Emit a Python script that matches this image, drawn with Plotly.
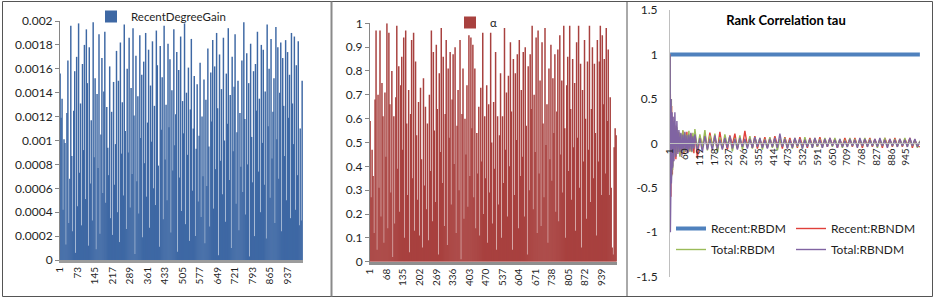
import plotly.graph_objects as go

# ---------------- data ----------------
# categories (1..1000); bars are shown for every 4th category
bar_cat = list(range(1, 1001, 4))

recent_degree_gain = [
    0.00156, 0.00119, 0.00135, 0.00042, 0.00101, 0.00098, 0.00013, 0.00123, 0.00167, 0.00031,
    0.00068, 0.00196, 0.00087, 0.00024, 0.00125, 0.00158, 0.00006, 0.00170, 0.00045, 0.00198,
    0.00073, 0.00131, 0.00029, 0.00164, 0.00092, 0.00180, 0.00051, 0.00193, 0.00148, 0.00012,
    0.00178, 0.00064, 0.00117, 0.00033, 0.00199, 0.00086, 0.00152, 0.00009, 0.00139, 0.00077,
    0.00189, 0.00022, 0.00105, 0.00169, 0.00056, 0.00141, 0.00191, 0.00048, 0.00128, 0.00094,
    0.00071, 0.00162, 0.00035, 0.00124, 0.00021, 0.00149, 0.00063, 0.00097, 0.00175, 0.00040,
    0.00150, 0.00015, 0.00182, 0.00089, 0.00132, 0.00054, 0.00197, 0.00108, 0.00026, 0.00160,
    0.00090, 0.00186, 0.00044, 0.00144, 0.00072, 0.00194, 0.00121, 0.00005, 0.00171, 0.00066,
    0.00137, 0.00039, 0.00188, 0.00102, 0.00155, 0.00019, 0.00166, 0.00081, 0.00190, 0.00053,
    0.00115, 0.00176, 0.00027, 0.00146, 0.00099, 0.00183, 0.00060, 0.00129, 0.00046, 0.00192,
    0.00163, 0.00079, 0.00011, 0.00179, 0.00109, 0.00153, 0.00034, 0.00196, 0.00084, 0.00130,
    0.00050, 0.00181, 0.00111, 0.00168, 0.00023, 0.00142, 0.00075, 0.00193, 0.00096, 0.00122,
    0.00174, 0.00007, 0.00159, 0.00069, 0.00187, 0.00041, 0.00133, 0.00106, 0.00198, 0.00030,
    0.00140, 0.00088, 0.00161, 0.00016, 0.00126, 0.00185, 0.00058, 0.00110, 0.00154, 0.00020,
    0.00093, 0.00147, 0.00049, 0.00104, 0.00165, 0.00036, 0.00120, 0.00070, 0.00151, 0.00014,
    0.00134, 0.00062, 0.00177, 0.00095, 0.00028, 0.00157, 0.00116, 0.00184, 0.00043, 0.00162,
    0.00076, 0.00190, 0.00127, 0.00004, 0.00172, 0.00083, 0.00143, 0.00055, 0.00186, 0.00100,
    0.00032, 0.00156, 0.00114, 0.00194, 0.00067, 0.00138, 0.00010, 0.00170, 0.00091, 0.00145,
    0.00189, 0.00047, 0.00107, 0.00150, 0.00025, 0.00123, 0.00078, 0.00167, 0.00057, 0.00199,
    0.00118, 0.00038, 0.00173, 0.00080, 0.00148, 0.00003, 0.00181, 0.00103, 0.00065, 0.00158,
    0.00020, 0.00164, 0.00125, 0.00191, 0.00074, 0.00135, 0.00040, 0.00180, 0.00098, 0.00176,
    0.00063, 0.00141, 0.00018, 0.00197, 0.00112, 0.00160, 0.00052, 0.00185, 0.00085, 0.00124,
    0.00152, 0.00031, 0.00195, 0.00101, 0.00178, 0.00068, 0.00140, 0.00182, 0.00024, 0.00169,
    0.00129, 0.00087, 0.00184, 0.00050, 0.00174, 0.00119, 0.00155, 0.00035, 0.00190, 0.00131,
    0.00097, 0.00187, 0.00042, 0.00163, 0.00071, 0.00183, 0.00029, 0.00110, 0.00033, 0.00150,
]

alpha = [
    0.59, 0.27, 0.47, 0.36, 0.12, 0.68, 0.97, 0.05, 0.70, 0.31,
    0.97, 0.19, 0.75, 0.61, 0.08, 0.71, 0.44, 1.00, 0.14, 0.96,
    0.66, 0.29, 0.80, 0.02, 0.61, 0.16, 0.69, 0.99, 0.39, 0.82,
    0.21, 0.74, 0.86, 0.47, 0.94, 0.10, 0.97, 0.58, 0.28, 0.72,
    0.04, 0.62, 0.93, 0.35, 0.96, 0.13, 0.84, 0.53, 0.26, 0.67,
    0.11, 0.73, 0.43, 0.06, 0.77, 0.32, 0.65, 0.22, 0.58, 0.09,
    0.70, 0.38, 0.97, 0.17, 0.88, 0.55, 0.25, 0.91, 0.64, 0.03,
    0.79, 0.46, 0.98, 0.33, 0.86, 0.15, 0.62, 0.93, 0.07, 0.81,
    0.52, 0.88, 0.24, 0.68, 0.87, 0.41, 0.90, 0.12, 0.57, 0.72,
    0.30, 0.93, 0.01, 0.62, 0.81, 0.18, 0.60, 0.45, 0.74, 0.23,
    0.95, 0.36, 0.94, 0.56, 0.91, 0.27, 0.81, 0.14, 0.54, 0.37,
    0.65, 0.11, 0.73, 0.42, 0.96, 0.20, 0.61, 0.35, 0.74, 0.08,
    0.66, 0.29, 0.96, 0.50, 0.16, 0.67, 0.39, 0.88, 0.05, 0.61,
    0.24, 0.53, 0.79, 0.10, 0.61, 0.33, 0.98, 0.47, 0.71, 0.19,
    0.78, 0.40, 0.92, 0.63, 0.05, 0.85, 0.28, 0.79, 0.51, 0.87,
    0.14, 0.93, 0.36, 0.72, 0.44, 0.88, 0.19, 0.90, 0.57, 0.03,
    0.82, 0.30, 0.87, 0.64, 0.99, 0.22, 0.70, 0.46, 0.94, 0.12,
    0.97, 0.37, 0.76, 0.15, 0.92, 0.58, 0.27, 0.98, 0.49, 0.66,
    0.08, 0.81, 0.43, 0.91, 0.34, 0.77, 0.54, 0.87, 0.21, 0.63,
    0.89, 0.17, 0.95, 0.45, 0.76, 0.29, 0.99, 0.56, 0.10, 0.74,
    0.86, 0.38, 0.99, 0.64, 0.26, 0.85, 0.48, 0.75, 0.13, 0.92,
    0.52, 0.99, 0.31, 0.83, 0.06, 0.72, 0.42, 0.93, 0.60, 0.18,
    0.84, 0.47, 0.99, 0.25, 0.64, 0.90, 0.35, 0.83, 0.54, 0.11,
    0.93, 0.42, 0.84, 0.99, 0.28, 0.95, 0.66, 0.85, 0.37, 0.98,
    0.59, 0.89, 0.28, 0.69, 0.31, 0.06, 0.03, 0.48, 0.56, 0.53,
]

# rank-correlation series, sampled at these categories
tau_cat = list(range(1, 17)) + list(range(20, 101, 4)) + list(range(110, 1001, 10))

recent_rbdm = [1.0] * len(tau_cat)

recent_rbndm = [
    1.0, -0.45, 0.55, -0.6, 0.38, -0.25, 0.42, -0.3, 0.22, -0.35, 0.3, -0.15, 0.25, -0.2, 0.18, -0.12,
    0.2, -0.18, 0.15, -0.1, 0.12, -0.14, 0.1, -0.08, 0.14, -0.12, 0.09, -0.06, 0.13, -0.1, 0.08, -0.09,
    0.11, -0.05, 0.07, -0.11, 0.12,
    -0.16, 0.08, -0.04, 0.1, -0.06, 0.12, -0.03, 0.07, -0.08, 0.13,
    -0.05, 0.06, -0.07, 0.09, -0.02, 0.11, -0.06, 0.05, -0.04, 0.14,
    -0.03, 0.06, -0.05, 0.08, -0.06, 0.04, -0.03, 0.07, -0.05, 0.06,
    -0.04, 0.08, -0.02, 0.05, -0.06, 0.07, -0.03, 0.06, -0.04, 0.05,
    -0.05, 0.07, -0.02, 0.04, -0.05, 0.06, -0.03, 0.05, -0.04, 0.07,
    -0.03, 0.05, -0.04, 0.06, -0.02, 0.05, -0.05, 0.04, -0.03, 0.06,
    -0.02, 0.05, -0.04, 0.06, -0.03, 0.04, -0.05, 0.05, -0.02, 0.06,
    -0.04, 0.05, -0.03, 0.04, -0.05, 0.06, -0.02, 0.05, -0.04, 0.06,
    -0.03, 0.05, -0.04, 0.05, -0.02, 0.06, -0.05, 0.04, -0.03, -0.04,
]

total_rbdm = [
    1.0, 0.2, -0.3, 0.45, -0.2, 0.5, -0.37, 0.32, -0.22, 0.28, -0.3, 0.2, -0.18, 0.24, -0.15, 0.2,
    0.16, -0.12, 0.18, -0.09, 0.13, -0.15, 0.11, -0.07, 0.15, -0.1, 0.12, -0.08, 0.1, -0.06, 0.14, -0.09,
    0.08, -0.1, 0.12, -0.05, 0.16,
    -0.07, 0.1, -0.05, 0.15, -0.08, 0.09, -0.04, 0.11, -0.1, 0.07,
    -0.06, 0.1, -0.03, 0.08, -0.09, 0.06, -0.05, 0.09, -0.07, 0.05,
    -0.04, 0.08, -0.06, 0.07, -0.03, 0.06, -0.07, 0.05, -0.04, 0.07,
    -0.05, 0.06, -0.08, 0.05, -0.03, 0.06, -0.05, 0.04, -0.06, 0.06,
    -0.04, 0.05, -0.06, 0.07, -0.03, 0.05, -0.05, 0.06, -0.04, 0.05,
    -0.05, 0.06, -0.03, 0.05, -0.04, 0.06, -0.03, 0.05, -0.05, 0.04,
    -0.04, 0.06, -0.03, 0.05, -0.04, 0.05, -0.03, 0.06, -0.04, 0.05,
    -0.03, 0.04, -0.05, 0.05, -0.03, 0.06, -0.04, 0.04, -0.03, 0.05,
    -0.04, 0.05, -0.03, 0.06, -0.04, 0.05, -0.03, 0.04, -0.05, 0.03,
]

total_rbndm = [
    1.0, -1.0, 0.3, -0.5, 0.5, -0.45, 0.25, -0.3, 0.35, -0.28, 0.2, -0.25, 0.3, -0.18, 0.22, -0.2,
    0.35, -0.15, 0.25, -0.12, 0.15, -0.1, 0.12, -0.14, 0.1, -0.08, 0.13, -0.1, 0.09, -0.11, 0.1, -0.07,
    0.12, -0.09, 0.08, -0.06, 0.1,
    -0.09, 0.06, -0.1, 0.08, -0.07, 0.05, -0.08, 0.09, -0.06, 0.04,
    -0.07, 0.06, -0.05, 0.08, -0.06, 0.05, -0.07, 0.06, -0.04, 0.05,
    -0.06, 0.05, -0.05, 0.07, -0.04, 0.06, -0.05, 0.04, -0.06, 0.05,
    -0.04, 0.06, -0.05, 0.11, -0.04, 0.05, -0.06, 0.04, -0.05, 0.06,
    -0.03, 0.05, -0.06, 0.04, -0.04, 0.05, -0.05, 0.06, -0.03, 0.04,
    -0.05, 0.05, -0.04, 0.06, -0.03, 0.04, -0.05, 0.05, -0.04, 0.03,
    -0.04, 0.05, -0.03, 0.04, -0.05, 0.06, -0.03, 0.05, -0.04, 0.04,
    -0.03, 0.05, -0.04, 0.06, -0.03, 0.04, -0.05, 0.05, -0.03, 0.04,
    -0.04, 0.05, -0.03, 0.04, -0.04, 0.06, -0.03, 0.05, -0.04, 0.02,
]

assert len(recent_degree_gain) == len(bar_cat) == len(alpha)
assert len(recent_rbndm) == len(total_rbdm) == len(total_rbndm) == len(tau_cat)

# tick labels
x1_ticks = [1, 73, 145, 217, 289, 361, 433, 505, 577, 649, 721, 793, 865, 937]
x2_ticks = [1, 68, 135, 202, 269, 336, 403, 470, 537, 604, 671, 738, 805, 872, 939]
x3_ticks = [1, 60, 119, 178, 237, 296, 355, 414, 473, 532, 591, 650, 709, 768, 827, 886, 945]
y1_ticks = [0, 0.0002, 0.0004, 0.0006, 0.0008, 0.001, 0.0012, 0.0014, 0.0016, 0.0018, 0.002]
y1_text = ["0", "0.0002", "0.0004", "0.0006", "0.0008", "0.001", "0.0012", "0.0014", "0.0016", "0.0018", "0.002"]
y2_ticks = [0, 0.1, 0.2, 0.3, 0.4, 0.5, 0.6, 0.7, 0.8, 0.9, 1]
y2_text = ["0", "0.1", "0.2", "0.3", "0.4", "0.5", "0.6", "0.7", "0.8", "0.9", "1"]
y3_ticks = [-1.5, -1, -0.5, 0, 0.5, 1, 1.5]
y3_text = ["-1.5", "-1", "-0.5", "0", "0.5", "1", "1.5"]

# ---------------- figure ----------------
W, H = 935, 300
def px(x):
    return x / W
def py(y):
    return 1 - y / H

FONT = "Lato, 'Open Sans', sans-serif"
TXT = "#1f1f1f"

fig = go.Figure()

fig.add_trace(go.Bar(
    x=bar_cat, y=recent_degree_gain, name="RecentDegreeGain", showlegend=True,
    width=6, marker=dict(color="#3E68A4", line=dict(width=0)),
    xaxis="x", yaxis="y", legend="legend",
))
fig.add_trace(go.Bar(
    x=bar_cat, y=alpha, name="α", showlegend=True,
    width=6, marker=dict(color="#A8413F", line=dict(width=0)),
    xaxis="x2", yaxis="y2", legend="legend2",
))

line_series = [
    ("Recent:RBDM", recent_rbdm, "#4F81BD", 4, "legend3"),
    ("Recent:RBNDM", recent_rbndm, "#E0403A", 1.4, "legend4"),
    ("Total:RBDM", total_rbdm, "#9BBB59", 1.4, "legend5"),
    ("Total:RBNDM", total_rbndm, "#8064A2", 1.4, "legend6"),
]
for name, vals, col, lw, lg in line_series:
    fig.add_trace(go.Scatter(
        x=tau_cat, y=vals, name=name, mode="lines", showlegend=True,
        line=dict(color=col, width=lw),
        xaxis="x3", yaxis="y3", legend=lg,
    ))

y3_dom = [py(276.7), py(10)]
y3_rng = [-1.5, 1.5]
x3_pos = y3_dom[0] + (0 - y3_rng[0]) / (y3_rng[1] - y3_rng[0]) * (y3_dom[1] - y3_dom[0])

common_x = dict(range=[0.5, 1000.5], tickangle=-90, tickfont=dict(size=10, color=TXT),
                showgrid=False, zeroline=False, ticks="", fixedrange=True)
common_y = dict(showgrid=False, zeroline=False, tickfont=dict(size=12, color=TXT),
                showline=True, linewidth=1)
leg_common = dict(xanchor="left", yanchor="top", bgcolor="rgba(0,0,0,0)")
leg3_font = dict(size=12, color=TXT)

fig.update_layout(
    width=W, height=H,
    margin=dict(l=0, r=0, t=0, b=0, autoexpand=False),
    paper_bgcolor="white", plot_bgcolor="white",
    font=dict(family=FONT, color=TXT),
    showlegend=True,
    xaxis=dict(domain=[px(60), px(303)], anchor="y", tickvals=x1_ticks,
               ticktext=[str(v) for v in x1_ticks], showline=True, linecolor="#9c9c9c",
               linewidth=3, **common_x),
    yaxis=dict(domain=[py(260), py(21)], anchor="x", range=[0, 0.002], tickvals=y1_ticks,
               ticktext=y1_text, linecolor="#868686", ticks="outside", ticklen=4,
               tickcolor="#868686", **common_y),
    xaxis2=dict(domain=[px(370), px(617)], anchor="y2", tickvals=x2_ticks,
                ticktext=[str(v) for v in x2_ticks], showline=True, linecolor="#8f8f8f",
                linewidth=3, **common_x),
    yaxis2=dict(domain=[py(261.7), py(23.3)], anchor="x2", range=[0, 1], tickvals=y2_ticks,
                ticktext=y2_text, linecolor="#868686", ticks="outside", ticklen=4,
                tickcolor="#868686", **common_y),
    xaxis3=dict(domain=[px(670), px(920)], anchor="free", position=x3_pos, tickvals=x3_ticks,
                ticktext=[str(v) for v in x3_ticks], showline=True, linecolor="#bfbfbf",
                linewidth=1, **common_x),
    yaxis3=dict(domain=y3_dom, anchor="x3", range=y3_rng, tickvals=y3_ticks, ticktext=y3_text,
                linecolor="#bfbfbf", ticks="", ticklabelstandoff=9, **common_y),
    title=dict(text="<b>Rank Correlation tau</b>", x=px(786), y=py(20), xref="paper", yref="paper",
               xanchor="center", yanchor="middle", font=dict(size=13, color="#000000")),
    legend=dict(x=px(91), y=py(2), font=dict(size=11.5, color=TXT), **leg_common),
    legend2=dict(x=px(450), y=py(8), font=dict(size=11.5, color=TXT), **leg_common),
    legend3=dict(x=px(671), y=py(214), font=leg3_font, **leg_common),
    legend4=dict(x=px(791), y=py(214), font=leg3_font, **leg_common),
    legend5=dict(x=px(671), y=py(235), font=leg3_font, **leg_common),
    legend6=dict(x=px(791), y=py(235), font=leg3_font, **leg_common),
    shapes=[
        dict(type="rect", xref="paper", yref="paper", x0=px(2.5), x1=px(932.5), y0=py(296.5), y1=py(1.5),
             line=dict(color="#555555", width=1)),
        dict(type="line", xref="paper", yref="paper", x0=px(331.5), x1=px(331.5), y0=py(296.5), y1=py(1.5),
             line=dict(color="#8a8a8a", width=2)),
        dict(type="line", xref="paper", yref="paper", x0=px(627), x1=px(627), y0=py(296.5), y1=py(1.5),
             line=dict(color="#555555", width=1)),
    ],
)

fig.write_html("out.html", config={"staticPlot": True},
               post_script="document.body.style.margin='0';")
